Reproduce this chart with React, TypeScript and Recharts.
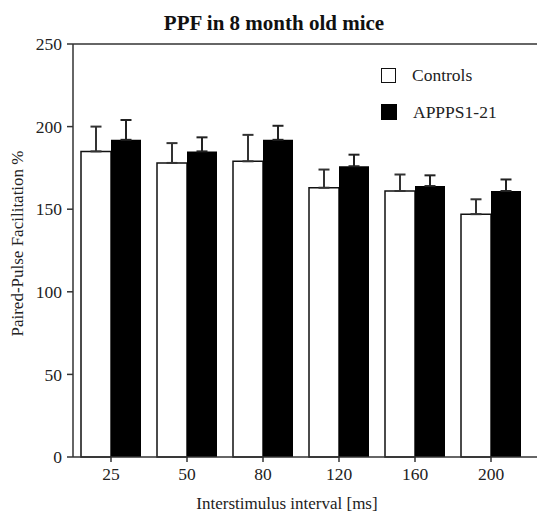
import { BarChart, Bar, XAxis, YAxis, ErrorBar, ReferenceLine } from 'recharts';

// values
const intervals = ['25', '50', '80', '120', '160', '200'];
const controls = [185, 178, 179, 163, 161, 147];
const controlsErr = [15, 12, 16, 11, 10, 9];
const appps = [192, 185, 192, 176, 164, 161];
const apppsErr = [12, 8.5, 8.5, 7, 6.5, 7];
const yTicks = [0, 50, 100, 150, 200, 250];

const data = intervals.map((interval, i) => ({
  interval,
  controls: controls[i],
  controlsErr: [0, controlsErr[i]],
  appps: appps[i],
  apppsErr: [0, apppsErr[i]],
}));

const FONT = 'Liberation Serif, Times New Roman, serif';
const tickStyle = { fontFamily: FONT, fontSize: 17.5, fill: '#222' };
const labelStyle = { fontFamily: FONT, fontSize: 17, fill: '#222' };

export default function App() {
  return (
    <div
      style={{
        position: 'absolute',
        left: 0,
        top: 0,
        width: 537,
        height: 513,
        background: '#fff',
        overflow: 'hidden',
        fontFamily: FONT,
      }}
    >
      <BarChart
        width={537}
        height={513}
        data={data}
        margin={{ top: 44, right: 0, bottom: 0, left: 0 }}
        barGap={0}
        barCategoryGap={8}
      >
        <XAxis
          dataKey="interval"
          height={56}
          padding={{ left: 0, right: 8 }}
          tick={tickStyle}
          tickSize={5}
          tickMargin={6}
          stroke="#333"
          strokeWidth={1.5}
          label={{ value: 'Interstimulus interval [ms]', position: 'center', dx: -18, dy: 18, style: labelStyle }}
        />
        <YAxis
          width={73}
          domain={[0, 250]}
          ticks={yTicks}
          tick={tickStyle}
          tickSize={6}
          tickMargin={5}
          stroke="#333"
          strokeWidth={1.5}
          label={{ value: 'Paired-Pulse Facilitation %', angle: -90, position: 'center', dx: -20, dy: -7, style: labelStyle }}
        />
        <ReferenceLine y={250} stroke="#333" strokeWidth={1.5} />
        <Bar dataKey="controls" name="Controls" fill="#fff" stroke="#111" strokeWidth={1.5} isAnimationActive={false}>
          <ErrorBar dataKey="controlsErr" width={5.5} stroke="#333" strokeWidth={2} direction="y" isAnimationActive={false} />
        </Bar>
        <Bar dataKey="appps" name="APPPS1-21" fill="#000" isAnimationActive={false}>
          <ErrorBar dataKey="apppsErr" width={5.5} stroke="#222" strokeWidth={2} direction="y" isAnimationActive={false} />
        </Bar>
      </BarChart>

      {/* title */}
      <div
        style={{
          position: 'absolute',
          left: 0,
          top: 11,
          width: 548,
          lineHeight: '24px',
          textAlign: 'center',
          fontWeight: 'bold',
          fontSize: 21,
          color: '#111',
        }}
      >
        PPF in 8 month old mice
      </div>

      {/* legend, drawn by hand so the white box gets its border */}
      <div style={{ position: 'absolute', left: 381, top: 67, fontSize: 17.5, color: '#222' }}>
        <div style={{ display: 'flex', alignItems: 'center', height: 16, marginBottom: 21 }}>
          <span style={{ width: 13, height: 13, border: '1.5px solid #111', background: '#fff', marginRight: 16 }} />
          <span>Controls</span>
        </div>
        <div style={{ display: 'flex', alignItems: 'center', height: 16 }}>
          <span style={{ width: 16, height: 16, background: '#000', marginRight: 16 }} />
          <span>APPPS1-21</span>
        </div>
      </div>
    </div>
  );
}
